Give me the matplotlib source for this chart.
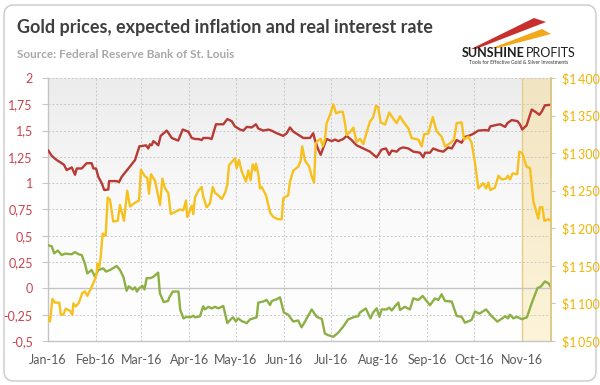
import datetime as dt
import numpy as np
import matplotlib
matplotlib.use("Agg")
import matplotlib.pyplot as plt
import matplotlib.dates as mdates
from matplotlib.patches import FancyBboxPatch, Polygon
from matplotlib.ticker import FuncFormatter, FixedLocator
from matplotlib.colors import LinearSegmentedColormap

plt.rcParams['font.family'] = ['Lato', 'DejaVu Sans']

title = "Gold prices, expected inflation and real interest rate"
subtitle = "Source: Federal Reserve Bank of St. Louis"

# days since 2016-01-01
inflation_day = [0.2, 2.4, 5.6, 8.8, 10.3, 12.0, 15.3, 17.4, 18.5, 21.7, 24.9, 28.1, 29.2, 30.9, 32.4, 34.6,
                 36.2, 38.8, 39.3, 44.2, 45.7, 47.4, 52.8, 56.0, 58.8, 63.1, 64.5, 65.6, 66.7, 67.8, 69.5,
                 71.0, 72.5, 76.4, 77.4, 79.6, 83.8, 86.7, 90.3, 92.5, 94.6, 96.7, 98.9, 99.9, 103.2, 105.3,
                 108.1, 112.8, 115.4, 118.2, 120.3, 123.6, 125.7, 127.9, 131.1, 133.8, 135.3, 138.5, 141.8,
                 143.9, 147.2, 151.4, 153.6, 155.7, 157.9, 161.1, 164.3, 168.6, 170.7, 171.8, 173.9, 175.5,
                 177.2, 179.3, 182.6, 184.7, 186.8, 190.0, 192.2, 195.4, 198.6, 202.9, 207.2, 211.5, 214.7,
                 217.5, 219.6, 221.2, 224.4, 226.5, 228.6, 231.9, 235.1, 239.4, 241.5, 242.6, 245.8, 247.9,
                 251.2, 254.4, 257.6, 259.8, 263.0, 266.2, 268.3, 271.6, 273.7, 276.9, 281.3, 283.4, 284.6,
                 288.9, 291.0, 294.2, 295.6, 298.4, 302.1, 303.7, 305.2, 308.0, 311.3, 314.5, 316.2, 317.7,
                 319.8, 323.0]
inflation = [1.31, 1.26, 1.22, 1.19, 1.175, 1.125, 1.15, 1.08, 1.14, 1.14, 1.19, 1.19, 1.14, 1.14, 1.06, 1.0,
             0.935, 0.94, 1.02, 1.02, 1.01, 1.06, 1.16, 1.22, 1.35, 1.36, 1.33, 1.37, 1.36, 1.40, 1.38,
             1.36, 1.45, 1.50, 1.48, 1.43, 1.405, 1.51, 1.49, 1.43, 1.42, 1.42, 1.41, 1.43, 1.43, 1.42,
             1.56, 1.56, 1.61, 1.59, 1.54, 1.51, 1.50, 1.535, 1.53, 1.56, 1.52, 1.50, 1.51,
             1.50, 1.475, 1.45, 1.475, 1.53, 1.49, 1.46, 1.43, 1.43, 1.475, 1.41, 1.32, 1.27,
             1.34, 1.42, 1.40, 1.415, 1.40, 1.42, 1.45, 1.41, 1.36, 1.33, 1.30, 1.245, 1.32,
             1.33, 1.27, 1.31, 1.30, 1.33, 1.34, 1.33, 1.30, 1.29, 1.245, 1.29, 1.29, 1.33,
             1.31, 1.30, 1.34, 1.33, 1.41, 1.385, 1.44, 1.455, 1.47, 1.50, 1.505, 1.50, 1.54,
             1.555, 1.56, 1.535, 1.57, 1.60, 1.59, 1.56, 1.51, 1.55, 1.70, 1.67, 1.65, 1.68,
             1.74, 1.745]

gold_day = [0.2, 1.3, 2.8, 4.5, 7.3, 8.2, 9.9, 11.4, 14.2, 15.7, 16.3, 17.8, 19.9, 22.1, 23.8, 25.3, 28.1,
            29.6, 31.3, 31.7, 33.0, 33.9, 35.2, 37.1, 38.4, 39.9, 42.0, 44.9, 46.3, 48.9, 51.0, 52.8, 56.0,
            58.6, 59.8, 62.4, 63.9, 65.0, 66.3, 68.9, 72.1, 73.6, 75.3, 77.4, 79.0, 84.9, 87.1, 88.8, 89.6,
            91.4, 92.5, 93.5, 94.6, 96.7, 98.9, 99.9, 102.1, 104.2, 106.0, 107.5, 109.6, 111.8, 113.9,
            115.4, 116.5, 120.3, 121.4, 122.9, 124.6, 127.4, 128.9, 130.4, 131.7, 133.2, 133.8, 135.3,
            136.4, 137.5, 140.3, 142.9, 145.0, 148.2, 150.4, 151.4, 154.6, 155.7, 157.9, 161.1, 162.6,
            163.6, 165.4, 168.1, 169.7, 171.2, 172.3, 173.9, 175.5, 176.8, 178.2, 179.3, 181.5, 183.6,
            185.4, 187.9, 189.7, 191.1, 192.2, 194.3, 196.5, 198.6, 200.8, 202.9, 205.1, 207.2, 209.3,
            211.1, 212.5, 214.1, 216.9, 219.6, 222.2, 224.4, 226.5, 228.6, 231.9, 234.0, 236.2, 238.3,
            240.5, 242.0, 244.7, 247.6, 250.1, 253.3, 255.5, 258.7, 261.3, 263.0, 266.2, 267.7, 270.5,
            272.6, 274.8, 276.9, 280.1, 281.9, 283.4, 284.6, 287.6, 289.9, 292.0, 294.7, 295.9, 297.3,
            299.0, 302.0, 303.3, 305.2, 308.0, 310.2, 312.4, 315.5, 316.6, 318.2, 319.4, 322.0, 323.5]
gold = [1080, 1076, 1106, 1101, 1101, 1085, 1085, 1093, 1090, 1085, 1100, 1096, 1101, 1114, 1116, 1110, 1122,
        1129, 1139, 1153, 1148, 1162, 1193, 1190, 1241, 1238, 1209, 1210, 1231, 1210, 1250, 1229, 1234,
        1237, 1278, 1269, 1267, 1246, 1272, 1263, 1231, 1266, 1253, 1247, 1219, 1225, 1224, 1237, 1215,
        1224, 1230, 1219, 1241, 1250, 1255, 1242, 1228, 1233, 1255, 1247, 1244, 1239, 1247,
        1258, 1284, 1293, 1280, 1291, 1276, 1262, 1277, 1264, 1285, 1277, 1286, 1273,
        1253, 1255, 1244, 1221, 1215, 1212, 1212, 1240, 1244, 1262, 1277, 1282, 1290,
        1309, 1290, 1282, 1269, 1261, 1313, 1317, 1319, 1309, 1318, 1340, 1351, 1365,
        1353, 1355, 1355, 1340, 1324, 1328, 1334, 1315, 1319, 1312, 1328, 1342, 1348,
        1363, 1361, 1341, 1338, 1354, 1346, 1340, 1349, 1342, 1333, 1320, 1319, 1318,
        1309, 1325, 1326, 1348, 1329, 1322, 1309, 1313, 1318, 1340, 1341, 1318, 1322,
        1314, 1287, 1253, 1260, 1253, 1261, 1251, 1254, 1270, 1265, 1266, 1270, 1265,
        1273, 1272, 1302, 1300, 1282, 1280, 1235, 1213, 1228, 1228, 1210, 1212, 1210]

real_day = [0.2, 2.4, 4.0, 6.3, 8.8, 11.0, 15.3, 17.4, 19.6, 21.7, 23.8, 25.3, 28.1, 30.2, 32.4, 35.6, 37.3,
            39.9, 44.2, 46.3, 48.5, 50.6, 52.0, 54.5, 56.0, 57.2, 58.6, 60.8, 62.1, 63.5, 66.0, 67.8, 70.9,
            72.0, 74.4, 77.2, 78.3, 80.3, 84.0, 85.1, 87.2, 89.3, 91.5, 93.6, 94.6, 97.8, 99.9, 101.0,
            103.2, 105.3, 107.5, 109.6, 112.8, 115.4, 118.2, 119.2, 120.9, 122.4, 124.6, 127.9, 130.0,
            134.3, 135.3, 138.5, 140.7, 142.9, 144.0, 146.8, 149.3, 151.8, 154.6, 157.8, 161.0, 163.2,
            165.4, 166.5, 169.7, 172.9, 176.2, 178.2, 180.4, 183.6, 186.8, 189.9, 193.1, 197.4, 199.6,
            200.7, 204.5, 207.5, 209.2, 211.5, 213.3, 214.7, 217.9, 219.6, 221.2, 223.3, 225.5, 226.5,
            229.7, 232.9, 235.1, 238.3, 241.1, 243.7, 245.8, 249.0, 251.2, 253.3, 255.5, 259.8, 263.0,
            266.2, 268.3, 272.6, 274.8, 277.6, 281.9, 285.3, 289.1, 292.3, 294.4, 296.0, 297.3, 299.5,
            301.7, 305.0, 308.2, 311.3, 315.0, 317.3, 319.8, 322.0, 323.7]
real_rate = [0.41, 0.40, 0.333, 0.36, 0.317, 0.33, 0.325, 0.345, 0.325, 0.317, 0.232, 0.143, 0.175, 0.111,
             0.175, 0.19, 0.16, 0.175, 0.213, 0.175, 0.11, -0.022, 0.02, -0.01, 0.01, -0.03, 0.0, 0.025,
             -0.01, 0.098, 0.098, 0.11, 0.15, -0.045, -0.13, -0.12, -0.08, -0.03, -0.03, -0.205, -0.285,
             -0.27, -0.275, -0.26, -0.275, -0.265, -0.17, -0.20, -0.175, -0.19, -0.175, -0.19, -0.167,
             -0.33, -0.285, -0.275, -0.315, -0.285, -0.31, -0.33, -0.295, -0.275, -0.135, -0.125, -0.11,
             -0.158, -0.12, -0.105, -0.085, -0.23, -0.25, -0.315, -0.305, -0.37, -0.315, -0.285, -0.2,
             -0.27, -0.29, -0.43, -0.445, -0.46, -0.42, -0.365, -0.295, -0.27, -0.265, -0.23, -0.19,
             -0.285, -0.23, -0.19, -0.27, -0.2, -0.2, -0.183, -0.21, -0.17, -0.135, -0.205, -0.175, -0.2,
             -0.095, -0.11, -0.072, -0.12, -0.16, -0.095, -0.11, -0.056, -0.12, -0.125, -0.262, -0.27,
             -0.326, -0.30, -0.22, -0.24, -0.2, -0.26, -0.316, -0.285, -0.265, -0.285, -0.25, -0.285,
             -0.27, -0.293, -0.275, -0.14, 0.003, 0.02, 0.066, 0.05, 0.012]

left_ticks = [-0.5, -0.25, 0, 0.25, 0.5, 0.75, 1, 1.25, 1.5, 1.75, 2]
right_ticks = [1050, 1100, 1150, 1200, 1250, 1300, 1350, 1400]
month_starts = ["2016-01-01", "2016-02-01", "2016-03-01", "2016-04-01", "2016-05-01", "2016-06-01",
                "2016-07-01", "2016-08-01", "2016-09-01", "2016-10-01", "2016-11-01"]
shade_start = "2016-11-01"
x_span_days = 323.7

W, H = 600, 385
fig = plt.figure(figsize=(W / 100, H / 100), dpi=100)

def fx(px):
    return px / W

def fy(py):
    return 1 - py / H

# outer rounded frame
frame = FancyBboxPatch((0.04, 0.04), 5.92, 3.76, boxstyle="round,pad=0,rounding_size=0.1",
                       transform=fig.dpi_scale_trans, fc="white", ec="#c9c9c9", lw=1.0, zorder=-10)
fig.patches.append(frame)

base = mdates.date2num(dt.datetime(2016, 1, 1))
to_x = lambda days: base + np.asarray(days, dtype=float)

ax = fig.add_axes([fx(48), fy(341), fx(551) - fx(48), fy(78) - fy(341)])
ax.set_facecolor("none")

# background gradient of plot area
grad = np.linspace(0, 1, 256).reshape(-1, 1)
bg_cmap = LinearSegmentedColormap.from_list("bg", ["#ffffff", "#fafafa", "#ececec"])
ax.imshow(grad, cmap=bg_cmap, extent=[0, 1, 0, 1], transform=ax.transAxes, aspect="auto",
          origin="lower", zorder=0)

# shaded november region
x0 = base
x1 = base + x_span_days
s0 = mdates.date2num(dt.datetime.fromisoformat(shade_start))
f0 = (s0 - x0) / (x1 - x0)
sh_cmap = LinearSegmentedColormap.from_list("sh", ["#fdf4d9", "#f1e4c2"])
ax.imshow(grad, cmap=sh_cmap, extent=[f0, 1, 0, 1], transform=ax.transAxes, aspect="auto",
          origin="lower", zorder=0.5)
ax.axvline(s0, color="#f4d06a", lw=1.0, zorder=0.6)

ax.set_xlim(x0, x1)
ax.set_ylim(-0.5, 2)

# grid
for t in left_ticks:
    if t == 0:
        ax.axhline(0, color="#c4c4c4", lw=1.0, zorder=0.7)
    else:
        ax.axhline(t, color="#c8c8c8", lw=0.7, ls=(0, (2, 2)), zorder=0.7)
mticks = [mdates.date2num(dt.datetime.fromisoformat(m)) for m in month_starts]
for m in mticks[1:]:
    ax.axvline(m, color="#c8c8c8", lw=0.7, ls=(0, (2, 2)), zorder=0.7)

ax.plot(to_x(inflation_day), inflation, color="#b73a34", lw=1.7, zorder=3, solid_joinstyle="round")
ax.plot(to_x(real_day), real_rate, color="#8cb044", lw=1.7, zorder=3, solid_joinstyle="round")

ax.xaxis.set_major_locator(FixedLocator(mticks))
ax.xaxis.set_major_formatter(mdates.DateFormatter("%b-%y"))
ax.yaxis.set_major_locator(FixedLocator(left_ticks))
ax.yaxis.set_major_formatter(FuncFormatter(lambda v, p: ("%g" % v).replace(".", ",")))
ax.tick_params(axis="x", length=0, pad=9, labelsize=9, labelcolor="#5a5a5a")
ax.tick_params(axis="y", length=4, width=0.8, color="#c8c8c8", pad=7, labelsize=9, labelcolor="#c8434c")
for s in ["top", "right"]:
    ax.spines[s].set_visible(False)
for s in ["left", "bottom"]:
    ax.spines[s].set_color("#c4c4c4")
    ax.spines[s].set_linewidth(1.0)

ax2 = ax.twinx()
ax2.plot(to_x(gold_day), gold, color="#f6c11e", lw=1.7, zorder=3, solid_joinstyle="round")
ax2.set_ylim(1050, 1400)
ax2.set_xlim(x0, x1)
ax2.yaxis.set_major_locator(FixedLocator(right_ticks))
ax2.yaxis.set_major_formatter(FuncFormatter(lambda v, p: "$" + "{:,}".format(int(v)).replace(",", "\u2009")))
ax2.tick_params(axis="y", length=3, width=0.8, color="#c8c8c8", pad=5, labelsize=9, labelcolor="#f0b400")
for s in ["top", "left", "bottom"]:
    ax2.spines[s].set_visible(False)
ax2.spines["right"].set_color("#d9c27a")
ax2.spines["right"].set_linewidth(1.2)

# titles
fig.text(fx(17), fy(28), title, fontsize=13, fontweight="bold", color="#3f3f3f", va="center", ha="left")
fig.text(fx(17), fy(55), subtitle, fontsize=8.5, fontweight="bold", color="#a8a8a8", va="center", ha="left")

# logo
red_sw = [(471, 49), (534, 18), (546, 22), (476, 49)]
gold_sw = [(492, 48), (542, 29), (551, 34), (498, 48)]
fig.patches.append(Polygon([(fx(a), fy(b)) for a, b in red_sw], closed=True, transform=fig.transFigure,
                           fc="#c8302e", ec="none"))
fig.patches.append(Polygon([(fx(a), fy(b)) for a, b in gold_sw], closed=True, transform=fig.transFigure,
                           fc="#f2a81d", ec="none"))
fig.text(fx(462), fy(53), "SUNSHINE", fontsize=9, fontweight="bold", color="#1d1d1d", va="center", ha="left")
fig.text(fx(576), fy(53), "PROFITS", fontsize=9, color="#1d1d1d", va="center", ha="right")
fig.text(fx(519), fy(62.5), "Tools for Effective Gold & Silver Investments", fontsize=3.6, color="#333333",
         va="center", ha="center")

fig.savefig("out.png", dpi=100)
